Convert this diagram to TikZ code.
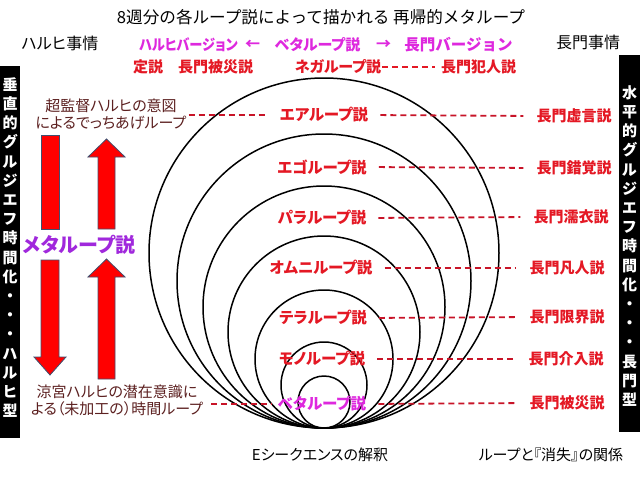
\documentclass[tikz,border=0pt]{standalone}
\usepackage{fontspec}
\setmainfont{Noto Sans CJK JP}[RawFeature=+palt]
\newfontfamily\jpfull{Noto Sans CJK JP}
\definecolor{rtext}{RGB}{228,24,36}
\definecolor{mag}{RGB}{222,40,222}
\definecolor{purp}{RGB}{160,40,220}
\definecolor{maroon}{RGB}{92,32,32}
\definecolor{dred}{RGB}{200,20,40}
\definecolor{arrowedge}{RGB}{64,80,112}
\begin{document}
\begin{tikzpicture}[x=1pt,y=-1pt,
  every node/.style={inner sep=0pt},
  plain/.style={font=\fontsize{15}{18}\selectfont},
  lbl/.style={font=\fontsize{15}{18}\selectfont\bfseries, text=rtext},
  clbl/.style={font=\fontsize{15.5}{18}\selectfont\bfseries, text=rtext},
  maglbl/.style={font=\fontsize{15}{18}\selectfont\bfseries, text=mag},
  side/.style={font=\fontsize{15}{17}\selectfont, text=maroon, align=center},
  vbar/.style={font=\fontsize{15}{19.2}\selectfont\bfseries, text=white, align=center},
  dashline/.style={draw=dred, line width=1.8pt, dash pattern=on 6pt off 4pt},
  bigarrow/.style={fill=red, draw=arrowedge, line width=0.8pt},
  loop/.style={draw=black, line width=1.5pt}]
\useasboundingbox (0,0) rectangle (640,480);
\fill[white] (0,0) rectangle (640,480);

% side bars
\fill[black] (0,66) rectangle (20,438);
\fill[black] (619,55) rectangle (640,432);
\node[vbar] (lbar) at (10,247.5) {垂\\直\\的\\グ\\ル\\ジ\\エ\\フ\\時\\間\\化\\・\\・\\・\\ハ\\ル\\ヒ\\型};
\node[vbar] (rbar) at (629.5,246) {水\\平\\的\\グ\\ル\\ジ\\エ\\フ\\時\\間\\化\\・\\・\\・\\長\\門\\型};

% nested loops
\foreach \r in {175,147,121,96,69,43,26}
  \draw[loop] (324,{428-\r}) circle[radius=\r pt];

% headings
\node[font=\jpfull\fontsize{16.6}{18}\selectfont] (title) at (321,17) {8週分の各ループ説によって描かれる 再帰的メタループ};
\node[font=\fontsize{16}{18}\selectfont] (hj) at (60,43) {ハルヒ事情};
\node[font=\fontsize{16}{18}\selectfont] (nj) at (588,42) {長門事情};

\node[maglbl, xscale=0.88, transform shape] (hv) at (188.5,45) {ハルヒバージョン};
\node[maglbl] (la) at (252.5,45) {←};
\node[maglbl] (bv) at (317.5,45) {ベタループ説};
\node[maglbl] (ra) at (383.5,45) {→};
\node[maglbl, font=\jpfull\fontsize{15.5}{18}\selectfont\bfseries] (nv) at (458.5,45) {長門バージョン};

\node[lbl] (teisetsu) at (148,67) {定説};
\node[lbl] (hisai0) at (215.5,67) {長門被災説};
\node[lbl] (nega) at (338,67) {ネガループ説};
\node[lbl] (hannin) at (478.5,67) {長門犯人説};
\draw[draw=rtext, line width=2pt, dash pattern=on 6pt off 4pt, shorten <=1pt, shorten >=6pt] (nega.east) -- (hannin.west);

% left side
\node[side] (lt) at (111,114) {超監督ハルヒの意図\\によるでっちあげループ};
\node[side] (lb) at (117,400) {涼宮ハルヒの潜在意識に\\よる（未加工の）時間ループ};
\node[font=\fontsize{20}{22}\selectfont\bfseries, text=purp] (meta) at (79,245) {メタループ説};

\draw[bigarrow] (41,135) rectangle (59,229);
\draw[bigarrow] (41,260) -- (59,260) -- (59,357) -- (66,357) -- (50,375) -- (34,357) -- (41,357) -- cycle;
\draw[bigarrow] (98,229) -- (98,157) -- (88,157) -- (106.5,139) -- (125,157) -- (115,157) -- (115,229) -- cycle;
\draw[bigarrow] (98,379) -- (98,277) -- (88,277) -- (106.5,259) -- (125,277) -- (115,277) -- (115,379) -- cycle;

% loop labels
\node[clbl] (ea) at (324,115) {エアループ説};
\node[clbl] (ego) at (322,167) {エゴループ説};
\node[clbl] (para) at (322,218) {パラループ説};
\node[clbl] (omni) at (321,268) {オムニループ説};
\node[clbl] (tera) at (323,318) {テラループ説};
\node[clbl] (mono) at (322,359) {モノループ説};
\node[maglbl, font=\fontsize{15.5}{18}\selectfont\bfseries] (beta) at (322,404) {ベタループ説};

% Nagato theories
\node[lbl] (n1) at (574,116) {長門虚言説};
\node[lbl] (n2) at (574,168) {長門錯覚説};
\node[lbl] (n3) at (571,217) {長門濡衣説};
\node[lbl] (n4) at (567,268) {長門凡人説};
\node[lbl] (n5) at (567,317) {長門限界説};
\node[lbl] (n6) at (566,359) {長門介入説};
\node[lbl] (n7) at (567,403) {長門被災説};

% dashed connectors
\foreach \a/\b in {ea/n1,ego/n2,para/n3,omni/n4,tera/n5,mono/n6,beta/n7}
  \draw[dashline, shorten <=12pt, shorten >=13pt] (\a.east) -- (\b.west);
\draw[dashline, shorten <=2pt, shorten >=12pt] (lt.east |- ea.west) -- (ea.west);
\draw[dashline, shorten <=8pt, shorten >=6pt] (lb.east |- beta.west) -- (beta.west);

% bottom captions
\node[plain] (eseq) at (320,455) {Eシークエンスの解釈};
\node[plain] (rel) at (551,455) {ループと『消失』の関係};
\end{tikzpicture}
\end{document}
